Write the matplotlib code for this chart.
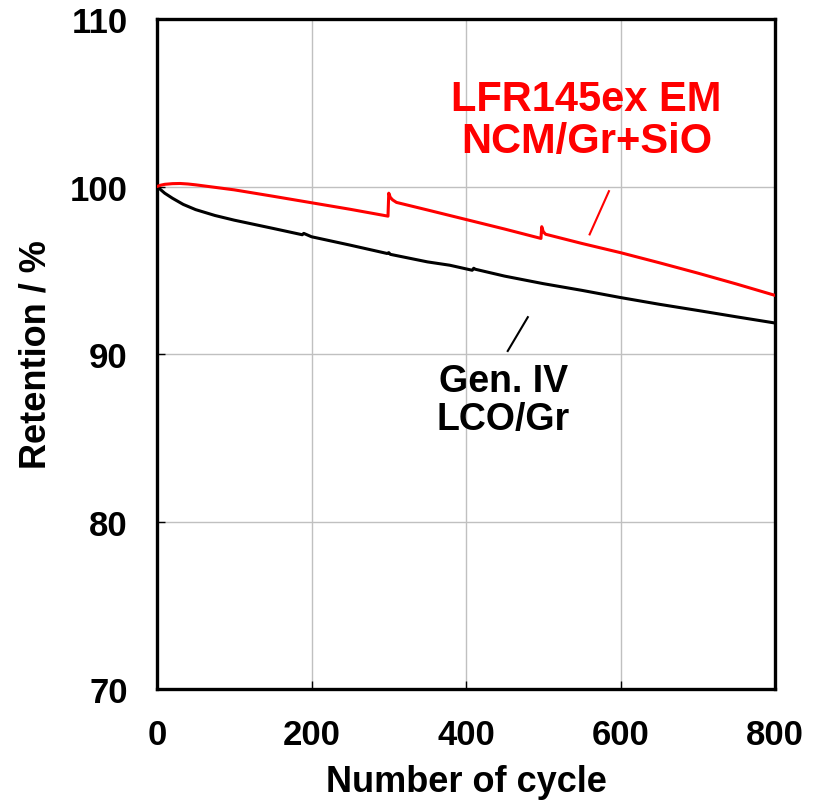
import numpy as np
import matplotlib
matplotlib.use('Agg')
import matplotlib.pyplot as plt

# Red: LFR145ex EM, NCM/Gr+SiO
red_cycle = [0, 5, 10, 20, 30, 40, 50, 75, 100, 150, 200, 250, 299,
             300, 302, 305, 310, 350, 400, 450, 497,
             498, 500, 503, 509, 550, 600, 650, 700, 750, 800]
red_ret = [100.0, 100.08, 100.13, 100.17, 100.18, 100.15, 100.1, 99.95, 99.8, 99.42, 99.03, 98.64, 98.23,
           99.6, 99.35, 99.2, 99.05, 98.6, 98.03, 97.46, 96.9,
           97.6, 97.3, 97.15, 97.08, 96.6, 96.05, 95.45, 94.83, 94.18, 93.5]

# Black: Gen. IV, LCO/Gr
blk_cycle = [0, 5, 10, 20, 34, 50, 75, 100, 150, 188, 190, 200, 250, 298, 300, 302,
             350, 379, 408, 410, 412, 450, 500, 550, 600, 650, 700, 750, 800]
blk_ret = [100.0, 99.8, 99.6, 99.3, 98.93, 98.62, 98.27, 97.99, 97.5, 97.12, 97.2, 97.0, 96.5, 96.0, 96.05, 95.95,
           95.5, 95.3, 95.0, 95.12, 95.06, 94.65, 94.2, 93.8, 93.37, 92.97, 92.6, 92.22, 91.85]

x_ticks = [0, 200, 400, 600, 800]
y_ticks = [70, 80, 90, 100, 110]

plt.rcParams['font.family'] = ['Liberation Sans', 'DejaVu Sans']
plt.rcParams['font.weight'] = 'bold'

fig = plt.figure(figsize=(8.16, 8.03), dpi=100)
ax = fig.add_axes([0.1924, 0.1407, 0.7574, 0.8344])

ax.plot(blk_cycle, blk_ret, color='black', linewidth=2.2, zorder=3)
ax.plot(red_cycle, red_ret, color='#ff0000', linewidth=2.2, zorder=4)

ax.set_xlim(0, 800)
ax.set_ylim(70, 110)
ax.set_xticks(x_ticks)
ax.set_yticks(y_ticks)
ax.grid(True, color='#c0c0c0', linewidth=1.0)
ax.set_axisbelow(True)

for s in ax.spines.values():
    s.set_linewidth(2.4)
ax.tick_params(direction='in', length=6, width=1.0, labelsize=25, pad=21)
for lab in ax.get_xticklabels() + ax.get_yticklabels():
    lab.set_fontweight('bold')

ax.set_xlabel('Number of cycle', fontsize=26, fontweight='bold', labelpad=9)
ax.set_ylabel('Retention / %', fontsize=26, fontweight='bold', labelpad=12)

# annotations
ax.text(556, 103.96, 'LFR145ex EM\nNCM/Gr+SiO', color='#ff0000', fontsize=30,
        fontweight='bold', ha='center', va='center', linespacing=1.05)
ax.plot([585, 560], [99.72, 97.14], color='#ff0000', linewidth=1.5)

ax.text(448, 87.26, 'Gen. IV\nLCO/Gr', color='black', fontsize=27,
        fontweight='bold', ha='center', va='center', linespacing=1.1)
ax.plot([480, 454], [92.2, 90.18], color='black', linewidth=1.5)

fig.savefig('out.png', dpi=100)
